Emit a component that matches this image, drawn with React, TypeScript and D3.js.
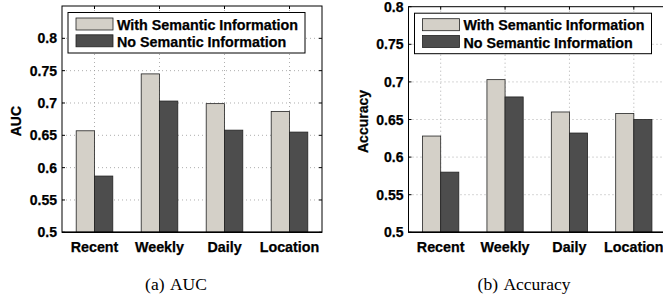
import * as d3 from 'd3';

const categories = ['Recent', 'Weekly', 'Daily', 'Location'];
const seriesNames = ['With Semantic Information', 'No Semantic Information'];
const seriesColors = ['#d4d0c8', '#4d4d4d'];

const aucWith = [0.657, 0.745, 0.699, 0.687];
const aucNo = [0.587, 0.703, 0.658, 0.655];
const aucTicks = [0.5, 0.55, 0.6, 0.65, 0.7, 0.75, 0.8];

const accWith = [0.628, 0.703, 0.66, 0.658];
const accNo = [0.58, 0.68, 0.632, 0.65];
const accTicks = [0.5, 0.55, 0.6, 0.65, 0.7, 0.75, 0.8];

const SANS = '"Liberation Sans", Arial, Helvetica, sans-serif';
const SERIF = '"Liberation Serif", "Times New Roman", serif';

type PanelProps = {
  x0: number; x1: number; top: number; bottom: number;
  domain: [number, number]; ticks: number[];
  withVals: number[]; noVals: number[];
  ylabel: string; ylabelX: number;
  caption: string; captionX: number;
};

// bold text, a bit heavier like the printed figure
const boldText = { fontFamily: SANS, fontWeight: 'bold' as const, stroke: '#000', strokeWidth: 0.25 };

function Panel(p: PanelProps) {
  const y = d3.scaleLinear().domain(p.domain).range([p.bottom, p.top]);
  const x = d3.scaleBand<string>().domain(categories).range([p.x0, p.x1])
    .paddingInner(0.437).paddingOuter(0.437 / 2);
  const sub = d3.scaleBand<number>().domain([0, 1]).range([0, x.bandwidth()]);
  const series = [p.withVals, p.noVals];
  const tickLen = 3;
  const lx = p.x0 + 6;
  const ly = p.top + 6.5;

  return (
    <g>
      {/* grid */}
      {p.ticks.filter(t => t > p.domain[0] && t < p.domain[1]).map(t => (
        <line key={'gy' + t} x1={p.x0} x2={p.x1} y1={y(t)} y2={y(t)}
          stroke="#999" strokeWidth={0.8} strokeDasharray="1,3" />
      ))}
      {categories.map(c => {
        const cx = (x(c) as number) + x.bandwidth() / 2;
        return <line key={'gx' + c} x1={cx} x2={cx} y1={p.top} y2={p.bottom}
          stroke="#999" strokeWidth={0.8} strokeDasharray="1,3" />;
      })}
      {/* bars */}
      {series.map((vals, si) => vals.map((v, i) => (
        <rect key={si + '-' + i}
          x={(x(categories[i]) as number) + (sub(si) as number)}
          y={y(v)} width={sub.bandwidth()} height={p.bottom - y(v)}
          fill={seriesColors[si]} stroke="#222" strokeWidth={0.8} />
      )))}
      {/* axes box */}
      <rect x={p.x0} y={p.top} width={p.x1 - p.x0} height={p.bottom - p.top}
        fill="none" stroke="#000" strokeWidth={1} />
      <line x1={p.x0} x2={p.x1} y1={p.bottom} y2={p.bottom} stroke="#000" strokeWidth={1.6} />
      {/* ticks */}
      {p.ticks.map(t => (
        <g key={'t' + t}>
          <line x1={p.x0} x2={p.x0 + tickLen} y1={y(t)} y2={y(t)} stroke="#000" />
          <line x1={p.x1} x2={p.x1 - tickLen} y1={y(t)} y2={y(t)} stroke="#000" />
          <text x={p.x0 - 5} y={y(t)} textAnchor="end" dominantBaseline="central"
            {...boldText} fontSize={14}>{String(t)}</text>
        </g>
      ))}
      {categories.map(c => {
        const cx = (x(c) as number) + x.bandwidth() / 2;
        return (
          <g key={'xl' + c}>
            <line x1={cx} x2={cx} y1={p.top} y2={p.top + tickLen} stroke="#000" />
            <text x={cx} y={p.bottom + 19.5} textAnchor="middle"
              {...boldText} fontSize={14.3}>{c}</text>
          </g>
        );
      })}
      {/* y label */}
      <text transform={`translate(${p.ylabelX},${(p.top + p.bottom) / 2 + 2}) rotate(-90)`}
        textAnchor="middle" dominantBaseline="central"
        {...boldText} fontSize={14}>{p.ylabel}</text>
      {/* legend */}
      <rect x={lx} y={ly} width={237} height={40.5} fill="#fff" stroke="#000" strokeWidth={1} />
      {seriesNames.map((n, i) => (
        <g key={n}>
          <rect x={lx + 8} y={ly + 5.5 + i * 16.8} width={37} height={12}
            fill={seriesColors[i]} stroke="#222" strokeWidth={0.8} />
          <text x={lx + 49} y={ly + 17 + i * 17.5}
            {...boldText} fontSize={14.3}>{n}</text>
        </g>
      ))}
      {/* caption */}
      <text x={p.captionX} y={290} textAnchor="middle" fontFamily={SERIF}
        fontSize={17.5} wordSpacing={2}>{p.caption}</text>
    </g>
  );
}

export default function App() {
  return (
    <div style={{ position: 'absolute', left: 0, top: 0 }}>
      <svg width={663} height={298} style={{ display: 'block', background: '#fff' }}>
        <Panel x0={62} x1={322} top={6} bottom={232.3} domain={[0.5, 0.85]}
          ticks={aucTicks} withVals={aucWith} noVals={aucNo}
          ylabel="AUC" ylabelX={16} caption="(a) AUC" captionX={176} />
        <Panel x0={408.5} x1={666} top={6.7} bottom={232.3} domain={[0.5, 0.8]}
          ticks={accTicks} withVals={accWith} noVals={accNo}
          ylabel="Accuracy" ylabelX={363} caption="(b) Accuracy" captionX={524} />
      </svg>
    </div>
  );
}
